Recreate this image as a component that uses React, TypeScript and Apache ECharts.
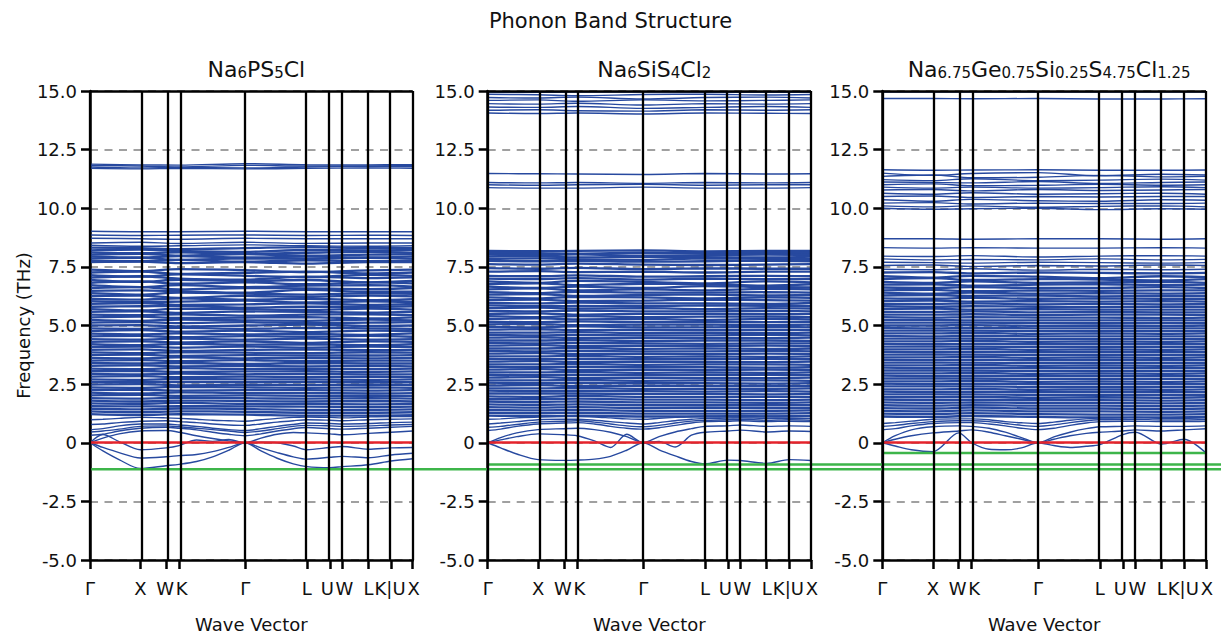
import React, { useEffect, useRef } from 'react';
import * as echarts from 'echarts';

const FONT = 'DejaVu Sans';
const TEXT = '#111111';
const BLUE = '#27499f';
const RED = '#e5232b';
const GREEN = '#3db54a';

const MAIN_TITLE = 'Phonon Band Structure';
const PANEL_TITLES = [
  '{n|Na}{s|6}{n|PS}{s|5}{n|Cl}',
  '{n|Na}{s|6}{n|SiS}{s|4}{n|Cl}{s|2}',
  '{n|Na}{s|6.75}{n|Ge}{s|0.75}{n|Si}{s|0.25}{n|S}{s|4.75}{n|Cl}{s|1.25}',
];
const X_NAME = 'Wave Vector';
const Y_NAME = 'Frequency (THz)';

const K_LABELS = ['Γ', 'X', 'W', 'K', 'Γ', 'L', 'U', 'W', 'L', 'K|U', 'X'];
const K_POS = [0, 0.156, 0.236, 0.276, 0.481, 0.672, 0.743, 0.782, 0.863, 0.933, 1.0];
const K_COARSE = [0, 0.156, 0.276, 0.481, 0.672, 0.863, 1.0];
const K_FINE = [0, 0.04, 0.09, 0.156, 0.236, 0.276, 0.33, 0.38, 0.43, 0.481, 0.53, 0.58, 0.63, 0.672, 0.743, 0.782, 0.863, 0.933, 1.0];

const Y_MIN = -5;
const Y_MAX = 15;
const Y_STEP = 2.5;
const ZERO_LEVEL = 0;
const MIN_LEVELS = [-1.13, -0.93, -0.44];

// ---- Na6PS5Cl (values at K_COARSE) ----
const P1_UPPER = [
  [11.88, 11.85, 11.84, 11.9, 11.86, 11.85, 11.86],
  [11.82, 11.8, 11.76, 11.83, 11.8, 11.8, 11.82],
  [11.76, 11.72, 11.74, 11.72, 11.76, 11.78, 11.77],
  [11.7, 11.68, 11.7, 11.68, 11.7, 11.72, 11.7],
  [9.02, 9.0, 9.0, 9.02, 9.0, 9.0, 9.0],
  [8.86, 8.84, 8.85, 8.86, 8.84, 8.85, 8.84],
  [8.72, 8.7, 8.68, 8.72, 8.7, 8.7, 8.7],
  [8.52, 8.55, 8.5, 8.55, 8.5, 8.52, 8.52],
  [8.42, 8.38, 8.4, 8.44, 8.4, 8.38, 8.4],
];
const P1_DENSE = [
  [8.32, 8.3, 8.26, 8.3, 8.34, 8.3, 8.3],
  [8.2, 8.24, 8.18, 8.14, 8.22, 8.2, 8.22],
  [8.12, 8.08, 8.12, 8.06, 8.1, 8.14, 8.1],
  [8.02, 8.06, 7.98, 8.04, 7.98, 8.02, 8.04],
  [7.95, 7.9, 7.96, 7.9, 7.94, 7.9, 7.95],
  [7.86, 7.88, 7.8, 7.86, 7.84, 7.88, 7.85],
  [7.78, 7.74, 7.8, 7.72, 7.78, 7.74, 7.78],
  [7.7, 7.72, 7.66, 7.7, 7.64, 7.7, 7.7],
  [7.38, 7.32, 7.4, 7.36, 7.28, 7.35, 7.38],
  [7.26, 7.3, 7.2, 7.25, 7.3, 7.22, 7.26],
  [7.15, 7.08, 7.18, 7.12, 7.06, 7.16, 7.12],
  [7.04, 7.1, 7.0, 6.96, 7.08, 7.02, 7.05],
  [6.94, 6.86, 6.95, 6.9, 6.94, 6.84, 6.9],
  [6.82, 6.88, 6.78, 6.84, 6.76, 6.84, 6.8],
  [6.72, 6.64, 6.72, 6.64, 6.7, 6.72, 6.66],
  [6.6, 6.64, 6.54, 6.6, 6.58, 6.55, 6.6],
  [6.48, 6.5, 6.46, 6.4, 6.52, 6.44, 6.44],
  [6.38, 6.32, 6.4, 6.36, 6.32, 6.38, 6.35],
  [6.26, 6.28, 6.18, 6.26, 6.22, 6.28, 6.24],
  [6.14, 6.1, 6.16, 6.1, 6.14, 6.08, 6.12],
  [6.04, 6.0, 6.02, 6.06, 5.98, 6.03, 6.0],
  [5.92, 5.96, 5.88, 5.9, 5.94, 5.88, 5.92],
  [5.8, 5.82, 5.84, 5.76, 5.8, 5.8, 5.82],
  [5.7, 5.64, 5.72, 5.7, 5.66, 5.72, 5.68],
  [5.58, 5.6, 5.54, 5.6, 5.58, 5.55, 5.58],
  [5.46, 5.44, 5.48, 5.42, 5.46, 5.48, 5.44],
  [5.35, 5.38, 5.32, 5.34, 5.36, 5.3, 5.35],
  [5.24, 5.2, 5.25, 5.22, 5.2, 5.25, 5.22],
  [5.12, 5.14, 5.1, 5.14, 5.1, 5.12, 5.14],
  [5.0, 5.02, 4.96, 5.0, 5.04, 4.98, 5.0],
  [4.88, 4.86, 4.9, 4.86, 4.9, 4.88, 4.86],
  [4.76, 4.8, 4.74, 4.78, 4.72, 4.78, 4.76],
  [4.65, 4.62, 4.66, 4.62, 4.64, 4.6, 4.66],
  [4.54, 4.56, 4.5, 4.55, 4.52, 4.56, 4.52],
  [4.42, 4.4, 4.44, 4.4, 4.44, 4.4, 4.42],
  [4.3, 4.32, 4.28, 4.32, 4.26, 4.32, 4.3],
  [4.2, 4.16, 4.22, 4.18, 4.2, 4.16, 4.2],
  [4.08, 4.1, 4.06, 4.1, 4.06, 4.1, 4.08],
  [3.96, 3.98, 3.92, 3.96, 3.98, 3.95, 3.96],
  [3.85, 3.82, 3.86, 3.84, 3.82, 3.86, 3.84],
  [3.74, 3.76, 3.7, 3.74, 3.72, 3.72, 3.74],
  [3.62, 3.6, 3.64, 3.6, 3.62, 3.6, 3.62],
  [3.5, 3.52, 3.48, 3.52, 3.48, 3.5, 3.5],
  [3.4, 3.38, 3.4, 3.36, 3.4, 3.38, 3.38],
  [3.28, 3.3, 3.26, 3.28, 3.26, 3.28, 3.26],
  [3.16, 3.14, 3.18, 3.15, 3.16, 3.14, 3.16],
  [3.05, 3.06, 3.02, 3.04, 3.05, 3.02, 3.04],
  [2.94, 2.92, 2.95, 2.92, 2.94, 2.92, 2.92],
  [2.82, 2.84, 2.8, 2.82, 2.8, 2.82, 2.8],
  [2.7, 2.68, 2.72, 2.7, 2.7, 2.68, 2.7],
  [2.6, 2.58, 2.6, 2.58, 2.6, 2.58, 2.58],
  [2.48, 2.5, 2.45, 2.47, 2.46, 2.48, 2.46],
  [2.36, 2.34, 2.38, 2.36, 2.34, 2.36, 2.34],
  [2.25, 2.26, 2.22, 2.24, 2.24, 2.22, 2.24],
  [2.14, 2.1, 2.15, 2.12, 2.12, 2.1, 2.12],
  [2.02, 2.04, 2.0, 2.02, 2.0, 2.0, 2.0],
  [1.9, 1.88, 1.92, 1.9, 1.88, 1.9, 1.88],
  [1.8, 1.76, 1.8, 1.78, 1.76, 1.78, 1.76],
  [1.68, 1.66, 1.7, 1.66, 1.66, 1.64, 1.66],
  [1.56, 1.55, 1.56, 1.55, 1.54, 1.52, 1.54],
  [1.45, 1.42, 1.46, 1.44, 1.4, 1.4, 1.42],
  [1.34, 1.3, 1.34, 1.32, 1.28, 1.28, 1.3],
  [1.22, 1.18, 1.22, 1.2, 1.16, 1.16, 1.18],
];
// low branches (values at K_FINE)
const P1_LOW = [
  [0, -0.35, -0.72, -1.1, -0.98, -0.92, -0.8, -0.6, -0.32, 0, -0.35, -0.66, -0.9, -1.02, -1.06, -1.02, -0.94, -0.78, -0.68],
  [0, -0.2, -0.42, -0.65, -0.6, -0.55, -0.5, -0.38, -0.2, 0, -0.22, -0.42, -0.6, -0.7, -0.62, -0.58, -0.64, -0.52, -0.45],
  [0, 0.35, 0.05, -0.3, -0.22, -0.12, 0.12, 0.06, 0.14, 0, 0.02, 0.0, -0.14, -0.3, -0.2, -0.16, -0.28, -0.22, -0.2],
  [0, 0.2, 0.38, 0.5, 0.52, 0.45, 0.3, 0.18, 0.08, 0, 0.2, 0.36, 0.44, 0.42, 0.38, 0.34, 0.4, 0.45, 0.5],
  [0.32, 0.36, 0.5, 0.62, 0.66, 0.62, 0.55, 0.45, 0.36, 0.3, 0.38, 0.5, 0.6, 0.65, 0.6, 0.58, 0.62, 0.66, 0.7],
  [0.46, 0.5, 0.58, 0.7, 0.72, 0.68, 0.62, 0.56, 0.5, 0.44, 0.5, 0.6, 0.7, 0.74, 0.72, 0.7, 0.72, 0.76, 0.78],
  [0.55, 0.6, 0.72, 0.8, 0.8, 0.76, 0.7, 0.62, 0.56, 0.52, 0.6, 0.7, 0.78, 0.84, 0.82, 0.8, 0.82, 0.86, 0.88],
  [0.78, 0.8, 0.86, 0.92, 0.94, 0.9, 0.86, 0.8, 0.76, 0.74, 0.8, 0.88, 0.94, 0.98, 0.96, 0.94, 0.98, 1.0, 1.02],
  [0.98, 1.0, 1.04, 1.08, 1.06, 1.04, 1.0, 0.96, 0.94, 0.92, 0.98, 1.04, 1.08, 1.1, 1.08, 1.06, 1.1, 1.12, 1.12],
];

// ---- Na6SiS4Cl2 ----
const P2_UPPER = [
  [14.96, 14.94, 14.95, 14.96, 14.94, 14.95, 14.94],
  [14.86, 14.84, 14.8, 14.85, 14.86, 14.83, 14.85],
  [14.72, 14.7, 14.74, 14.66, 14.72, 14.74, 14.7],
  [14.6, 14.62, 14.56, 14.62, 14.58, 14.6, 14.62],
  [14.46, 14.44, 14.48, 14.4, 14.46, 14.44, 14.46],
  [14.32, 14.3, 14.34, 14.26, 14.3, 14.34, 14.3],
  [14.18, 14.2, 14.16, 14.14, 14.2, 14.18, 14.2],
  [14.06, 14.04, 14.06, 14.02, 14.06, 14.05, 14.04],
  [11.48, 11.47, 11.46, 11.44, 11.48, 11.46, 11.47],
  [11.1, 11.08, 11.1, 11.06, 11.1, 11.08, 11.1],
  [11.0, 10.98, 11.0, 11.02, 10.98, 11.0, 11.0],
  [10.88, 10.86, 10.86, 10.9, 10.86, 10.86, 10.88],
];
const P2_DENSE = [
  [8.18, 8.17, 8.18, 8.2, 8.16, 8.18, 8.18],
  [8.1, 8.08, 8.06, 8.1, 8.1, 8.08, 8.1],
  [8.02, 8.0, 8.03, 7.98, 8.0, 8.02, 8.0],
  [7.94, 7.95, 7.9, 7.94, 7.92, 7.9, 7.94],
  [7.84, 7.86, 7.82, 7.8, 7.86, 7.84, 7.84],
  [7.76, 7.74, 7.76, 7.72, 7.74, 7.76, 7.74],
  [7.62, 7.6, 7.64, 7.6, 7.58, 7.6, 7.62],
  [7.45, 7.42, 7.46, 7.4, 7.44, 7.42, 7.42],
  [7.3, 7.32, 7.28, 7.3, 7.26, 7.3, 7.3],
  [7.12, 7.1, 7.14, 7.08, 7.1, 7.12, 7.1],
  [7.0, 6.98, 7.02, 6.96, 7.0, 6.98, 6.98],
  [6.88, 6.82, 6.9, 6.86, 6.8, 6.88, 6.84],
  [6.76, 6.8, 6.72, 6.78, 6.76, 6.7, 6.76],
  [6.66, 6.6, 6.66, 6.6, 6.68, 6.64, 6.62],
  [6.54, 6.58, 6.5, 6.54, 6.5, 6.56, 6.54],
  [6.42, 6.38, 6.44, 6.4, 6.4, 6.42, 6.4],
  [6.32, 6.34, 6.26, 6.3, 6.32, 6.28, 6.3],
  [6.2, 6.16, 6.22, 6.2, 6.16, 6.2, 6.18],
  [6.08, 6.1, 6.04, 6.06, 6.1, 6.08, 6.06],
  [5.96, 5.94, 5.98, 5.94, 5.94, 5.92, 5.96],
  [5.86, 5.82, 5.84, 5.82, 5.86, 5.84, 5.82],
  [5.74, 5.76, 5.72, 5.74, 5.7, 5.74, 5.72],
  [5.62, 5.6, 5.64, 5.6, 5.6, 5.62, 5.6],
  [5.5, 5.52, 5.46, 5.5, 5.5, 5.48, 5.5],
  [5.4, 5.36, 5.4, 5.36, 5.38, 5.38, 5.36],
  [5.28, 5.3, 5.26, 5.28, 5.24, 5.28, 5.26],
  [5.16, 5.14, 5.18, 5.14, 5.16, 5.14, 5.16],
  [5.05, 5.06, 5.02, 5.04, 5.04, 5.02, 5.04],
  [4.94, 4.92, 4.96, 4.92, 4.92, 4.94, 4.92],
  [4.82, 4.84, 4.8, 4.82, 4.8, 4.82, 4.8],
  [4.7, 4.7, 4.72, 4.68, 4.7, 4.68, 4.7],
  [4.6, 4.58, 4.6, 4.58, 4.58, 4.6, 4.58],
  [4.48, 4.5, 4.46, 4.48, 4.46, 4.46, 4.48],
  [4.36, 4.36, 4.38, 4.34, 4.36, 4.36, 4.34],
  [4.26, 4.24, 4.26, 4.24, 4.22, 4.24, 4.24],
  [4.14, 4.16, 4.12, 4.14, 4.12, 4.14, 4.12],
  [4.02, 4.02, 4.04, 4.0, 4.02, 4.0, 4.02],
  [3.92, 3.9, 3.92, 3.9, 3.9, 3.92, 3.9],
  [3.8, 3.82, 3.78, 3.8, 3.78, 3.8, 3.78],
  [3.68, 3.68, 3.7, 3.66, 3.68, 3.66, 3.68],
  [3.58, 3.56, 3.58, 3.56, 3.56, 3.58, 3.56],
  [3.46, 3.48, 3.44, 3.46, 3.44, 3.44, 3.46],
  [3.34, 3.34, 3.36, 3.32, 3.34, 3.34, 3.32],
  [3.24, 3.22, 3.24, 3.22, 3.22, 3.2, 3.22],
  [3.12, 3.14, 3.1, 3.12, 3.1, 3.12, 3.1],
  [3.0, 3.0, 3.02, 2.98, 3.0, 2.98, 3.0],
  [2.9, 2.88, 2.9, 2.88, 2.88, 2.9, 2.88],
  [2.78, 2.8, 2.76, 2.78, 2.76, 2.76, 2.78],
  [2.66, 2.66, 2.68, 2.64, 2.66, 2.66, 2.64],
  [2.56, 2.54, 2.56, 2.54, 2.54, 2.52, 2.54],
  [2.44, 2.46, 2.42, 2.44, 2.42, 2.42, 2.42],
  [2.32, 2.32, 2.34, 2.3, 2.3, 2.3, 2.32],
  [2.22, 2.2, 2.22, 2.2, 2.18, 2.2, 2.18],
  [2.1, 2.1, 2.1, 2.08, 2.08, 2.06, 2.08],
  [1.98, 1.96, 2.0, 1.96, 1.96, 1.96, 1.96],
  [1.86, 1.86, 1.88, 1.84, 1.84, 1.82, 1.84],
  [1.76, 1.74, 1.76, 1.72, 1.72, 1.7, 1.72],
  [1.64, 1.62, 1.64, 1.6, 1.6, 1.6, 1.6],
  [1.52, 1.5, 1.52, 1.48, 1.5, 1.48, 1.48],
  [1.4, 1.38, 1.4, 1.36, 1.36, 1.36, 1.38],
  [1.28, 1.26, 1.28, 1.24, 1.24, 1.24, 1.26],
  [1.16, 1.14, 1.16, 1.12, 1.12, 1.12, 1.14],
];
const P2_LOW = [
  [0, -0.22, -0.48, -0.72, -0.75, -0.74, -0.7, -0.58, -0.32, 0, -0.3, -0.56, -0.8, -0.9, -0.74, -0.76, -0.88, -0.72, -0.76],
  [0, 0.12, 0.26, 0.38, 0.34, 0.3, 0.08, -0.2, 0.36, 0, 0.06, -0.18, 0.32, 0.45, 0.5, 0.54, 0.46, 0.5, 0.48],
  [0, 0.22, 0.42, 0.56, 0.6, 0.62, 0.56, 0.45, 0.26, 0, 0.26, 0.46, 0.6, 0.7, 0.72, 0.76, 0.7, 0.72, 0.7],
  [0.52, 0.58, 0.7, 0.8, 0.84, 0.86, 0.8, 0.7, 0.62, 0.58, 0.64, 0.74, 0.84, 0.9, 0.92, 0.94, 0.9, 0.92, 0.9],
  [0.66, 0.7, 0.78, 0.88, 0.92, 0.94, 0.88, 0.8, 0.72, 0.68, 0.74, 0.84, 0.92, 0.96, 0.98, 1.0, 0.96, 0.98, 0.96],
  [0.8, 0.84, 0.9, 0.98, 1.0, 1.0, 0.96, 0.9, 0.84, 0.8, 0.86, 0.94, 1.0, 1.04, 1.05, 1.06, 1.04, 1.05, 1.04],
  [1.0, 1.02, 1.06, 1.1, 1.12, 1.12, 1.1, 1.06, 1.02, 1.0, 1.04, 1.08, 1.12, 1.14, 1.15, 1.16, 1.14, 1.15, 1.14],
];

// ---- Na6.75Ge0.75Si0.25S4.75Cl1.25 ----
const P3_UPPER = [
  [14.96, 14.96, 14.95, 14.96, 14.96, 14.95, 14.96],
  [14.68, 14.68, 14.67, 14.68, 14.66, 14.66, 14.67],
  [11.64, 11.62, 11.63, 11.64, 11.62, 11.62, 11.63],
  [11.5, 11.4, 11.48, 11.52, 11.38, 11.45, 11.42],
  [11.36, 11.42, 11.3, 11.32, 11.4, 11.34, 11.36],
  [11.22, 11.18, 11.26, 11.18, 11.2, 11.24, 11.2],
  [11.12, 11.1, 11.08, 11.14, 11.06, 11.1, 11.12],
  [11.0, 11.04, 10.96, 10.98, 11.02, 10.98, 11.0],
  [10.9, 10.86, 10.9, 10.86, 10.88, 10.92, 10.88],
  [10.78, 10.8, 10.74, 10.8, 10.76, 10.78, 10.8],
  [10.64, 10.6, 10.66, 10.6, 10.62, 10.64, 10.6],
  [10.5, 10.52, 10.46, 10.5, 10.48, 10.5, 10.5],
  [10.36, 10.3, 10.38, 10.32, 10.3, 10.36, 10.34],
  [10.22, 10.24, 10.18, 10.22, 10.2, 10.2, 10.22],
  [10.1, 10.06, 10.1, 10.04, 10.08, 10.1, 10.06],
  [10.0, 9.96, 9.98, 10.0, 9.94, 9.98, 9.96],
  [8.7, 8.7, 8.68, 8.7, 8.7, 8.68, 8.7],
  [8.32, 8.3, 8.32, 8.3, 8.3, 8.32, 8.3],
  [7.96, 7.94, 7.98, 7.92, 7.96, 7.98, 7.96],
  [7.84, 7.8, 7.82, 7.8, 7.84, 7.8, 7.82],
  [7.7, 7.68, 7.66, 7.7, 7.68, 7.66, 7.68],
  [7.56, 7.58, 7.52, 7.56, 7.54, 7.58, 7.56],
  [7.4, 7.38, 7.42, 7.36, 7.4, 7.38, 7.4],
];
const P3_DENSE = [
  [7.26, 7.28, 7.22, 7.26, 7.24, 7.22, 7.24],
  [7.1, 7.04, 7.12, 7.08, 7.02, 7.1, 7.06],
  [6.98, 7.02, 6.94, 6.98, 6.96, 6.92, 6.98],
  [6.86, 6.82, 6.88, 6.82, 6.84, 6.86, 6.82],
  [6.74, 6.76, 6.7, 6.74, 6.76, 6.72, 6.74],
  [6.62, 6.6, 6.64, 6.6, 6.6, 6.64, 6.6],
  [6.5, 6.52, 6.46, 6.5, 6.48, 6.5, 6.5],
  [6.4, 6.36, 6.4, 6.36, 6.38, 6.36, 6.38],
  [6.28, 6.3, 6.26, 6.28, 6.24, 6.26, 6.26],
  [6.16, 6.14, 6.18, 6.14, 6.16, 6.14, 6.14],
  [6.04, 6.06, 6.02, 6.04, 6.02, 6.04, 6.02],
  [5.92, 5.92, 5.94, 5.9, 5.92, 5.9, 5.92],
  [5.82, 5.8, 5.82, 5.8, 5.78, 5.8, 5.8],
  [5.7, 5.72, 5.68, 5.7, 5.68, 5.68, 5.68],
  [5.58, 5.58, 5.6, 5.56, 5.58, 5.56, 5.56],
  [5.46, 5.46, 5.48, 5.44, 5.46, 5.46, 5.44],
  [5.36, 5.34, 5.36, 5.34, 5.34, 5.32, 5.34],
  [5.24, 5.24, 5.22, 5.22, 5.22, 5.22, 5.22],
  [5.12, 5.12, 5.12, 5.1, 5.1, 5.1, 5.1],
  [5.0, 5.0, 5.02, 4.98, 5.0, 4.98, 5.0],
  [4.9, 4.88, 4.9, 4.88, 4.88, 4.88, 4.88],
  [4.78, 4.78, 4.78, 4.76, 4.76, 4.76, 4.76],
  [4.66, 4.66, 4.68, 4.64, 4.66, 4.64, 4.66],
  [4.56, 4.54, 4.56, 4.54, 4.54, 4.54, 4.54],
  [4.44, 4.44, 4.44, 4.42, 4.42, 4.42, 4.42],
  [4.32, 4.32, 4.34, 4.3, 4.32, 4.3, 4.32],
  [4.22, 4.2, 4.22, 4.2, 4.2, 4.2, 4.2],
  [4.1, 4.1, 4.1, 4.08, 4.08, 4.08, 4.08],
  [3.98, 3.98, 4.0, 3.96, 3.98, 3.96, 3.98],
  [3.88, 3.86, 3.88, 3.86, 3.86, 3.86, 3.86],
  [3.76, 3.76, 3.76, 3.74, 3.74, 3.74, 3.74],
  [3.64, 3.64, 3.66, 3.62, 3.64, 3.62, 3.64],
  [3.54, 3.52, 3.54, 3.52, 3.52, 3.52, 3.52],
  [3.42, 3.42, 3.42, 3.4, 3.4, 3.4, 3.4],
  [3.3, 3.3, 3.32, 3.28, 3.3, 3.28, 3.3],
  [3.2, 3.18, 3.2, 3.18, 3.18, 3.18, 3.18],
  [3.08, 3.08, 3.08, 3.06, 3.06, 3.06, 3.06],
  [2.96, 2.96, 2.98, 2.94, 2.96, 2.94, 2.96],
  [2.86, 2.84, 2.86, 2.84, 2.84, 2.84, 2.84],
  [2.74, 2.74, 2.74, 2.72, 2.72, 2.72, 2.72],
  [2.62, 2.62, 2.64, 2.6, 2.62, 2.6, 2.62],
  [2.52, 2.5, 2.52, 2.5, 2.5, 2.5, 2.5],
  [2.4, 2.4, 2.4, 2.38, 2.38, 2.38, 2.38],
  [2.28, 2.28, 2.3, 2.26, 2.28, 2.26, 2.28],
  [2.18, 2.16, 2.18, 2.16, 2.16, 2.16, 2.16],
  [2.06, 2.06, 2.06, 2.04, 2.04, 2.04, 2.04],
  [1.94, 1.94, 1.96, 1.92, 1.94, 1.92, 1.94],
  [1.84, 1.82, 1.84, 1.82, 1.82, 1.8, 1.82],
  [1.72, 1.7, 1.72, 1.7, 1.7, 1.68, 1.7],
  [1.6, 1.58, 1.6, 1.58, 1.58, 1.56, 1.58],
  [1.48, 1.46, 1.5, 1.46, 1.46, 1.44, 1.46],
  [1.36, 1.34, 1.38, 1.34, 1.34, 1.32, 1.34],
  [1.24, 1.22, 1.26, 1.22, 1.2, 1.2, 1.22],
  [1.12, 1.1, 1.14, 1.1, 1.08, 1.08, 1.1],
];
const P3_LOW = [
  [0, -0.14, -0.3, -0.38, 0.42, 0.0, -0.28, -0.3, -0.22, 0, -0.12, -0.2, -0.15, -0.08, 0.35, 0.45, -0.06, 0.15, -0.44],
  [0, 0.15, 0.3, 0.42, 0.5, 0.55, 0.45, 0.3, 0.15, 0, 0.15, 0.3, 0.4, 0.45, 0.5, 0.55, 0.5, 0.55, 0.6],
  [0, 0.3, 0.55, 0.68, 0.72, 0.7, 0.62, 0.45, 0.22, 0, 0.25, 0.45, 0.6, 0.68, 0.7, 0.72, 0.7, 0.7, 0.72],
  [0.55, 0.6, 0.72, 0.82, 0.86, 0.86, 0.8, 0.72, 0.62, 0.56, 0.62, 0.74, 0.84, 0.9, 0.92, 0.92, 0.9, 0.9, 0.92],
  [0.7, 0.74, 0.82, 0.9, 0.94, 0.94, 0.9, 0.82, 0.74, 0.7, 0.76, 0.86, 0.94, 0.98, 0.99, 1.0, 0.97, 0.97, 0.99],
  [0.82, 0.86, 0.92, 1.0, 1.02, 1.02, 0.98, 0.9, 0.85, 0.82, 0.88, 0.96, 1.02, 1.05, 1.06, 1.08, 1.04, 1.04, 1.06],
];

const PANEL_UPPER = [P1_UPPER, P2_UPPER, P3_UPPER];
const PANEL_DENSE = [P1_DENSE, P2_DENSE, P3_DENSE];
const PANEL_LOW = [P1_LOW, P2_LOW, P3_LOW];

// layout (pixels)
const W = 1221;
const H = 638;
const GRID_LEFT = [90, 487.7, 882.3];
const GRID_WIDTH = [322.7, 323.3, 323.7];
const GRID_TOP = 91;
const GRID_HEIGHT = 471.7;
const MIN_LINE_TO_EDGE = [true, true, false];
// small horizontal nudges (px) so adjacent k-labels don't collide
const K_LABEL_NUDGE = [0, 0, -1, 2.5, 0, 0, -2.5, 2, 0, -1, 1];

function kIndex(v: number): number {
  let best = 0;
  for (let i = 1; i < K_POS.length; i++) {
    if (Math.abs(K_POS[i] - v) < Math.abs(K_POS[best] - v)) best = i;
  }
  return best;
}

function buildOption(): any {
  const grid = GRID_LEFT.map((l, i) => ({ left: l, top: GRID_TOP, width: GRID_WIDTH[i], height: GRID_HEIGHT, show: false }));
  const black = { color: '#000', width: 2.5 };
  const rich: any = {};
  K_LABEL_NUDGE.forEach((n, i) => {
    rich['k' + i] = { fontSize: 18, color: TEXT, fontFamily: FONT, padding: n >= 0 ? [0, 0, 0, 2 * n] : [0, -2 * n, 0, 0] };
  });
  const xAxis = GRID_LEFT.map((_, i) => ({
    gridIndex: i, type: 'value', min: 0, max: 1,
    axisLine: { show: true, onZero: false, lineStyle: black },
    axisTick: { show: true, customValues: K_POS, length: 9, lineStyle: black },
    axisLabel: {
      show: true, customValues: K_POS, hideOverlap: false,
      formatter: (v: number) => { const k = kIndex(v); return '{k' + k + '|' + K_LABELS[k] + '}'; },
      fontSize: 18, color: TEXT, fontFamily: FONT, margin: 19, rich,
    },
    splitLine: { show: false },
    name: X_NAME, nameLocation: 'middle', nameGap: 55,
    nameTextStyle: { fontSize: 18, color: TEXT, fontFamily: FONT },
  }));
  const yAxis = GRID_LEFT.map((_, i) => ({
    gridIndex: i, type: 'value', min: Y_MIN, max: Y_MAX, interval: Y_STEP,
    axisLine: { show: true, onZero: false, lineStyle: black },
    axisTick: { show: true, length: 9, lineStyle: black },
    axisLabel: { formatter: (v: number) => (v === 0 ? '0' : v.toFixed(1)), fontSize: 18, color: TEXT, fontFamily: FONT, margin: 13 },
    splitLine: { show: true, lineStyle: { color: '#a0a0a0', width: 2, type: [8, 6.5] } },
    name: i === 0 ? Y_NAME : '', nameLocation: 'middle', nameGap: 58,
    nameTextStyle: { fontSize: 18, color: TEXT, fontFamily: FONT },
  }));

  const series: any[] = [];
  const addBands = (p: number, bands: number[][], ks: number[], width: number, smooth: number) => {
    bands.forEach((b) => {
      series.push({
        type: 'line', xAxisIndex: p, yAxisIndex: p, silent: true, symbol: 'none', smooth, z: 2,
        lineStyle: { color: BLUE, width },
        data: ks.map((k, j) => [k, b[j]]),
      });
    });
  };
  GRID_LEFT.forEach((_, p) => {
    addBands(p, PANEL_UPPER[p], K_COARSE, 1.4, 0.35);
    addBands(p, PANEL_DENSE[p], K_COARSE, 2.3, 0.35);
    addBands(p, PANEL_LOW[p], K_FINE, 1.4, 0.3);
    series.push({
      type: 'line', xAxisIndex: p, yAxisIndex: p, silent: true, data: [], z: 4, clip: false,
      markLine: {
        silent: true, symbol: ['none', 'none'], label: { show: false }, animation: false,
        lineStyle: { color: RED, width: 2.5, type: 'solid' },
        data: [{ yAxis: ZERO_LEVEL }],
      },
    });
    series.push({
      type: 'line', xAxisIndex: p, yAxisIndex: p, silent: true, data: [], z: 5, clip: false,
      markLine: {
        silent: true, symbol: ['none', 'none'], label: { show: false }, animation: false,
        lineStyle: { color: '#000', width: 2.3, type: 'solid' },
        data: [...K_POS.map((k) => ({ xAxis: k })), { yAxis: Y_MAX, lineStyle: { color: '#000', width: 2.5, type: 'solid' } }],
      },
    });
  });

  const title: any[] = [
    { text: MAIN_TITLE, left: 'center', top: 5, textStyle: { fontSize: 21, fontWeight: 'normal', color: TEXT, fontFamily: FONT } },
  ];
  PANEL_TITLES.forEach((t, i) => {
    title.push({
      text: t, left: GRID_LEFT[i] + GRID_WIDTH[i] / 2, top: 53, textAlign: 'center',
      textStyle: {
        fontSize: 22, fontWeight: 'normal', color: TEXT, fontFamily: FONT,
        rich: {
          n: { fontSize: 22, color: TEXT, fontFamily: FONT, verticalAlign: 'bottom' },
          s: { fontSize: 15, color: TEXT, fontFamily: FONT, verticalAlign: 'bottom' },
        },
      },
    });
  });

  return { animation: false, backgroundColor: '#ffffff', title, grid, xAxis, yAxis, series };
}

export default function App() {
  const ref = useRef<HTMLDivElement>(null);
  useEffect(() => {
    document.body.style.margin = '0';
    if (!ref.current) return;
    const chart = echarts.init(ref.current, null, { renderer: 'svg' });
    chart.setOption(buildOption());
    const graphic: any[] = [];
    MIN_LEVELS.forEach((lv, i) => {
      const a = chart.convertToPixel({ gridIndex: i } as any, [0, lv]) as number[];
      const b = chart.convertToPixel({ gridIndex: i } as any, [1, lv]) as number[];
      const x2 = MIN_LINE_TO_EDGE[i] ? W : b[0];
      graphic.push({ type: 'line', z: 3, silent: true, shape: { x1: a[0], y1: a[1], x2, y2: a[1] }, style: { stroke: GREEN, lineWidth: 2.5 } });
    });
    chart.setOption({ graphic });
    return () => chart.dispose();
  }, []);
  return <div ref={ref} style={{ width: W, height: H }} />;
}
